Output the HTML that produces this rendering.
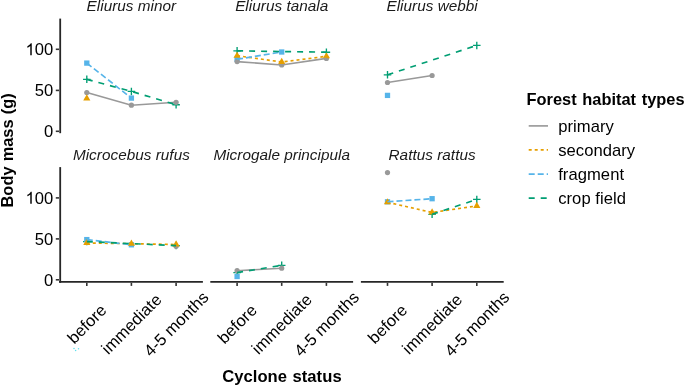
<!DOCTYPE html>
<html><head><meta charset="utf-8"><style>
html,body{margin:0;padding:0;background:#fff;}
svg{display:block;will-change:transform;font-family:"Liberation Sans",sans-serif;}
.ax{fill:#000;font-size:16.6px;letter-spacing:0.05px;}
.st{fill:#1a1a1a;font-size:15.3px;font-style:italic;letter-spacing:0.03px;}
.ti{fill:#000;font-size:16.6px;font-weight:bold;letter-spacing:0.05px;word-spacing:0.8px;}
.lg{fill:#000;font-size:16.6px;letter-spacing:0.05px;}
</style></head><body>
<svg width="685" height="386" viewBox="0 0 685 386">
<!-- axis titles -->
<text class="ti" transform="translate(12.7,150.4) rotate(-90)" text-anchor="middle" style="font-size:16.4px;letter-spacing:0;word-spacing:0.6px">Body mass (g)</text>
<text class="ti" x="281.9" y="381.6" text-anchor="middle">Cyclone status</text>
<!-- strip labels -->
<text class="st" x="131.4" y="11.4" text-anchor="middle">Eliurus minor</text>
<text class="st" x="281.7" y="11.4" text-anchor="middle">Eliurus tanala</text>
<text class="st" x="432.1" y="11.4" text-anchor="middle">Eliurus webbi</text>
<text class="st" x="131.4" y="159.6" text-anchor="middle">Microcebus rufus</text>
<text class="st" x="281.7" y="159.6" text-anchor="middle">Microgale principula</text>
<text class="st" x="432.1" y="159.6" text-anchor="middle">Rattus rattus</text>
<!-- y axes -->
<g stroke="#262626" stroke-width="1.9" fill="none">
<line x1="60.2" y1="18.6" x2="60.2" y2="133.2" stroke-width="1.8"/>
<line x1="60.2" y1="167.1" x2="60.2" y2="282.8" stroke-width="1.8"/>
<line x1="59.05" y1="281.9" x2="202.9" y2="281.9"/>
<line x1="210.3" y1="281.9" x2="353.1" y2="281.9"/>
<line x1="360.9" y1="281.9" x2="503.7" y2="281.9"/>
</g>
<g stroke="#333" stroke-width="1.6" fill="none">
<line x1="55.8" y1="49.3" x2="59" y2="49.3"/>
<line x1="55.8" y1="90.4" x2="59" y2="90.4"/>
<line x1="55.8" y1="131.3" x2="59" y2="131.3"/>
<line x1="55.8" y1="197.9" x2="59" y2="197.9"/>
<line x1="55.8" y1="238.9" x2="59" y2="238.9"/>
<line x1="55.8" y1="279.8" x2="59" y2="279.8"/>
<line x1="86.8" y1="282.8" x2="86.8" y2="285.9"/>
<line x1="131.4" y1="282.8" x2="131.4" y2="285.9"/>
<line x1="176.1" y1="282.8" x2="176.1" y2="285.9"/>
<line x1="237.1" y1="282.8" x2="237.1" y2="285.9"/>
<line x1="281.7" y1="282.8" x2="281.7" y2="285.9"/>
<line x1="326.4" y1="282.8" x2="326.4" y2="285.9"/>
<line x1="387.5" y1="282.8" x2="387.5" y2="285.9"/>
<line x1="432.1" y1="282.8" x2="432.1" y2="285.9"/>
<line x1="476.8" y1="282.8" x2="476.8" y2="285.9"/>
</g>
<g class="ax" text-anchor="end">
<text x="53.4" y="55.2">00</text>
<text x="53.4" y="96.3">50</text>
<text x="53.4" y="137.2">0</text>
<text x="53.4" y="203.8">00</text>
<text x="53.4" y="244.8">50</text>
<text x="53.4" y="285.7">0</text>
</g>
<g class="ax" text-anchor="middle">
<text transform="translate(86.8,323.8) rotate(-45)" dy="0.35em">before</text>
<text transform="translate(131.4,323.8) rotate(-45)" dy="0.35em">immediate</text>
<text transform="translate(176.1,323.8) rotate(-45)" dy="0.35em">4-5 months</text>
<text transform="translate(237.1,323.8) rotate(-45)" dy="0.35em">before</text>
<text transform="translate(281.7,323.8) rotate(-45)" dy="0.35em">immediate</text>
<text transform="translate(326.4,323.8) rotate(-45)" dy="0.35em">4-5 months</text>
<text transform="translate(387.5,323.8) rotate(-45)" dy="0.35em">before</text>
<text transform="translate(432.1,323.8) rotate(-45)" dy="0.35em">immediate</text>
<text transform="translate(476.8,323.8) rotate(-45)" dy="0.35em">4-5 months</text>
</g>
<!-- DATA -->
<path d="M83.04 79.35 H90.56 M86.80 75.59 V83.11" stroke="#009E73" stroke-width="1.35" fill="none"/>
<path d="M127.64 91.40 H135.16 M131.40 87.64 V95.16" stroke="#009E73" stroke-width="1.35" fill="none"/>
<path d="M172.34 104.70 H179.86 M176.10 100.94 V108.46" stroke="#009E73" stroke-width="1.35" fill="none"/>
<path d="M233.34 50.85 H240.86 M237.10 47.09 V54.61" stroke="#009E73" stroke-width="1.35" fill="none"/>
<path d="M322.64 52.20 H330.16 M326.40 48.44 V55.96" stroke="#009E73" stroke-width="1.35" fill="none"/>
<path d="M383.74 74.80 H391.26 M387.50 71.04 V78.56" stroke="#009E73" stroke-width="1.35" fill="none"/>
<path d="M473.04 45.40 H480.56 M476.80 41.64 V49.16" stroke="#009E73" stroke-width="1.35" fill="none"/>
<path d="M83.04 241.60 H90.56 M86.80 237.84 V245.36" stroke="#009E73" stroke-width="1.35" fill="none"/>
<path d="M172.34 245.60 H179.86 M176.10 241.84 V249.36" stroke="#009E73" stroke-width="1.35" fill="none"/>
<path d="M233.34 272.60 H240.86 M237.10 268.84 V276.36" stroke="#009E73" stroke-width="1.35" fill="none"/>
<path d="M277.94 265.30 H285.46 M281.70 261.54 V269.06" stroke="#009E73" stroke-width="1.35" fill="none"/>
<path d="M428.34 214.30 H435.86 M432.10 210.54 V218.06" stroke="#009E73" stroke-width="1.35" fill="none"/>
<path d="M473.04 199.40 H480.56 M476.80 195.64 V203.16" stroke="#009E73" stroke-width="1.35" fill="none"/>
<rect x="84.15" y="60.45" width="5.30" height="5.30" fill="#56B4E9"/>
<rect x="128.75" y="95.45" width="5.30" height="5.30" fill="#56B4E9"/>
<rect x="234.45" y="56.65" width="5.30" height="5.30" fill="#56B4E9"/>
<rect x="279.05" y="49.35" width="5.30" height="5.30" fill="#56B4E9"/>
<rect x="384.85" y="92.75" width="5.30" height="5.30" fill="#56B4E9"/>
<rect x="84.15" y="236.95" width="5.30" height="5.30" fill="#56B4E9"/>
<rect x="128.75" y="242.15" width="5.30" height="5.30" fill="#56B4E9"/>
<rect x="234.45" y="273.85" width="5.30" height="5.30" fill="#56B4E9"/>
<rect x="384.85" y="199.15" width="5.30" height="5.30" fill="#56B4E9"/>
<rect x="429.45" y="196.05" width="5.30" height="5.30" fill="#56B4E9"/>
<circle cx="86.80" cy="92.50" r="2.61" fill="#999999"/>
<circle cx="131.40" cy="105.20" r="2.61" fill="#999999"/>
<circle cx="176.10" cy="102.30" r="2.61" fill="#999999"/>
<circle cx="237.10" cy="61.60" r="2.61" fill="#999999"/>
<circle cx="281.70" cy="65.00" r="2.61" fill="#999999"/>
<circle cx="326.40" cy="58.40" r="2.61" fill="#999999"/>
<circle cx="387.50" cy="82.50" r="2.61" fill="#999999"/>
<circle cx="432.10" cy="75.50" r="2.61" fill="#999999"/>
<circle cx="176.10" cy="246.30" r="2.61" fill="#999999"/>
<circle cx="237.10" cy="270.70" r="2.61" fill="#999999"/>
<circle cx="281.70" cy="268.20" r="2.61" fill="#999999"/>
<circle cx="387.50" cy="172.60" r="2.61" fill="#999999"/>
<path d="M86.80 94.26 L90.38 100.47 L83.22 100.47Z" fill="#E69F00"/>
<path d="M237.10 51.56 L240.68 57.77 L233.52 57.77Z" fill="#E69F00"/>
<path d="M281.70 57.86 L285.28 64.07 L278.12 64.07Z" fill="#E69F00"/>
<path d="M326.40 52.16 L329.98 58.37 L322.82 58.37Z" fill="#E69F00"/>
<path d="M86.80 238.86 L90.38 245.07 L83.22 245.07Z" fill="#E69F00"/>
<path d="M131.40 239.56 L134.98 245.77 L127.82 245.77Z" fill="#E69F00"/>
<path d="M176.10 240.36 L179.68 246.57 L172.52 246.57Z" fill="#E69F00"/>
<path d="M387.50 198.16 L391.08 204.37 L383.92 204.37Z" fill="#E69F00"/>
<path d="M432.10 208.36 L435.68 214.57 L428.52 214.57Z" fill="#E69F00"/>
<path d="M476.80 201.76 L480.38 207.97 L473.22 207.97Z" fill="#E69F00"/>
<path d="M86.80 92.50 L131.40 105.20 L176.10 102.30" stroke="#999999" stroke-width="1.65" fill="none"/>
<path d="M237.10 61.60 L281.70 65.00 L326.40 58.40" stroke="#999999" stroke-width="1.65" fill="none"/>
<path d="M387.50 82.50 L432.10 75.50" stroke="#999999" stroke-width="1.65" fill="none"/>
<path d="M237.10 270.70 L281.70 268.20" stroke="#999999" stroke-width="1.65" fill="none"/>
<path d="M237.10 55.70 L281.70 62.00 L326.40 56.30" stroke="#E69F00" stroke-width="1.65" fill="none" stroke-dasharray="3 3"/>
<path d="M86.80 243.00 L131.40 243.70 L176.10 244.50" stroke="#E69F00" stroke-width="1.65" fill="none" stroke-dasharray="3 3"/>
<path d="M387.50 202.30 L432.10 212.50 L476.80 205.90" stroke="#E69F00" stroke-width="1.65" fill="none" stroke-dasharray="3 3"/>
<path d="M86.80 63.10 L131.40 98.10" stroke="#56B4E9" stroke-width="1.65" fill="none" stroke-dasharray="6 3"/>
<path d="M237.10 59.30 L281.70 52.00" stroke="#56B4E9" stroke-width="1.65" fill="none" stroke-dasharray="6 3"/>
<path d="M86.80 239.60 L131.40 244.80" stroke="#56B4E9" stroke-width="1.65" fill="none" stroke-dasharray="6 3"/>
<path d="M387.50 201.80 L432.10 198.70" stroke="#56B4E9" stroke-width="1.65" fill="none" stroke-dasharray="6 3"/>
<path d="M86.80 79.35 L131.40 91.40 L176.10 104.70" stroke="#009E73" stroke-width="1.65" fill="none" stroke-dasharray="6 6"/>
<path d="M237.10 50.85 L326.40 52.20" stroke="#009E73" stroke-width="1.65" fill="none" stroke-dasharray="6 6"/>
<path d="M387.50 74.80 L476.80 45.40" stroke="#009E73" stroke-width="1.65" fill="none" stroke-dasharray="6 6"/>
<path d="M86.80 241.60 L176.10 245.60" stroke="#009E73" stroke-width="1.65" fill="none" stroke-dasharray="6 6"/>
<path d="M237.10 272.60 L281.70 265.30" stroke="#009E73" stroke-width="1.65" fill="none" stroke-dasharray="6 6"/>
<path d="M432.10 214.30 L476.80 199.40" stroke="#009E73" stroke-width="1.65" fill="none" stroke-dasharray="6 6"/>
<!-- /DATA -->
<path d="M763 0H583V1147Q518 1085 412.5 1023Q307 961 223 930V1104Q374 1175 487 1276Q600 1377 647 1472H763Z" transform="translate(25.554,55.2) scale(0.008105,-0.008105)" fill="#000"/><path d="M763 0H583V1147Q518 1085 412.5 1023Q307 961 223 930V1104Q374 1175 487 1276Q600 1377 647 1472H763Z" transform="translate(25.554,203.8) scale(0.008105,-0.008105)" fill="#000"/>
<g fill="#5fe0ec"><circle cx="74.0" cy="348.6" r="0.75"/><circle cx="75.6" cy="350.6" r="0.75"/><circle cx="78.5" cy="348.7" r="0.75"/></g>
<!-- legend -->
<text class="ti" x="526.6" y="104.6" style="font-size:16.4px;letter-spacing:0;word-spacing:1.1px">Forest habitat types</text>
<g stroke-width="1.65" fill="none">
<line x1="528.7" y1="125.9" x2="548" y2="125.9" stroke="#999999"/>
<line x1="528.7" y1="149.9" x2="548" y2="149.9" stroke="#E69F00" stroke-dasharray="3 3"/>
<line x1="528.7" y1="174.1" x2="548" y2="174.1" stroke="#56B4E9" stroke-dasharray="6 3"/>
<line x1="528.7" y1="198.1" x2="548" y2="198.1" stroke="#009E73" stroke-dasharray="6 6"/>
</g>
<g class="lg">
<text x="558.2" y="132.3">primary</text>
<text x="558.2" y="156.3">secondary</text>
<text x="558.2" y="180.4">fragment</text>
<text x="558.2" y="204.4">crop field</text>
</g>
</svg>
</body></html>
